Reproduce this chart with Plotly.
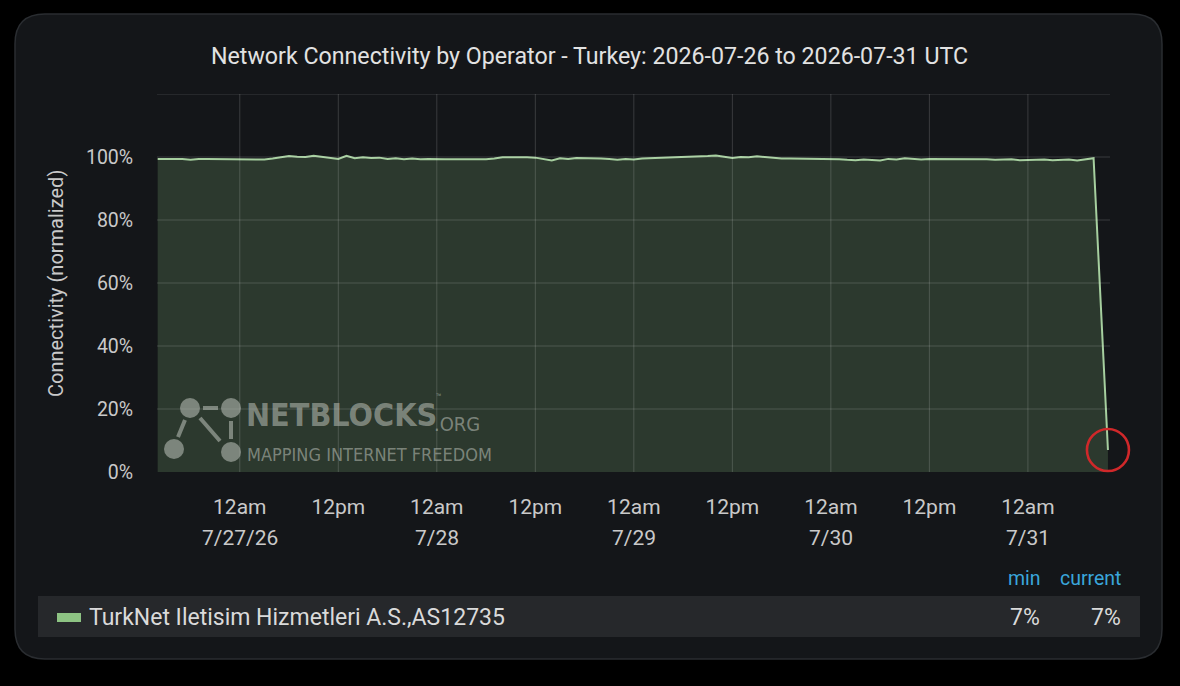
import plotly.graph_objects as go
import pandas as pd

# ---------------- data ----------------
start_time = "2026-07-26 14:00"
hourly_pct = [
    99.4, 99.4, 99.4, 99.4, 99.1, 99.4, 99.4, 99.4, 99.4, 99.4,
    99.4, 99.4, 99.4, 99.2, 99.5, 99.8, 100.3, 100.1, 100.0, 100.4,
    100.1, 99.8, 99.4, 100.4, 99.6, 99.9, 99.7, 99.8, 99.4, 99.6,
    99.3, 99.5, 99.3, 99.4, 99.25, 99.25, 99.25, 99.25, 99.25, 99.25,
    99.25, 99.5, 99.9, 99.9, 100.0, 99.9, 99.8, 99.3, 98.9, 99.6,
    99.4, 99.7, 99.7, 99.6, 99.5, 99.4, 99.1, 99.4, 99.2, 99.5,
    99.6, 99.5, 99.8, 99.7, 100.0, 100.1, 100.2, 100.3, 100.5, 100.1,
    99.7, 100.0, 99.9, 100.2, 100.0, 99.6, 99.5, 99.5, 99.5, 99.5,
    99.5, 99.5, 99.5, 99.3, 99.1, 99.0, 99.2, 99.0, 98.9, 99.4,
    99.2, 99.6, 99.3, 99.2, 99.4, 99.4, 99.4, 99.4, 99.4, 99.4,
    99.3, 99.3, 99.1, 99.2, 99.3, 99.0, 99.1, 99.2, 99.2, 99.0,
    99.1, 99.2, 98.9, 99.3, 99.6,
]
drop_time = "2026-07-31 09:45"
drop_pct = 7

series_name = "TurkNet Iletisim Hizmetleri A.S.,AS12735"
title_text = "Network Connectivity by Operator - Turkey: 2026-07-26 to 2026-07-31 UTC"

x_tickvals = pd.date_range("2026-07-27 00:00", "2026-07-31 00:00", freq="12h")
x_ticktext = ["12am" if t.hour == 0 else "12pm" for t in x_tickvals]
date_vals = pd.date_range("2026-07-27", "2026-07-31", freq="D")
date_text = ["7/27/26", "7/28", "7/29", "7/30", "7/31"]
y_tickvals = [0, 20, 40, 60, 80, 100]
y_ticktext = ["0%", "20%", "40%", "60%", "80%", "100%"]
x_range = ["2026-07-26 13:55", "2026-07-31 10:00"]
y_range = [0, 120]

times = list(pd.date_range(start_time, periods=len(hourly_pct), freq="h")) + [pd.Timestamp(drop_time)]
values = hourly_pct + [drop_pct]

# ---------------- layout geometry ----------------
W, H = 1180, 686
L, R, T, B = 157, 1110, 94, 472


def fx(px):
    return (px - L) / (R - L)


def fy(py):
    return (B - py) / (B - T)


BG = "#141619"
TXT = "#c9c9c9"
LINE = "#a6cf9f"
GRID = "rgba(255,255,255,0.16)"
FONT = "Roboto, Noto Sans, sans-serif"
NARROW = "Liberation Sans Narrow, DejaVu Sans Condensed, sans-serif"

fig = go.Figure()
fig.add_trace(go.Scatter(
    x=times, y=values, mode="lines", name=series_name,
    line=dict(color=LINE, width=2),
    fill="tozeroy", fillcolor="#2c392e",
    hoverinfo="skip", showlegend=False,
))
fig.add_trace(go.Scatter(
    x=[times[-1]], y=[values[-1]], mode="markers", cliponaxis=False,
    marker=dict(symbol="circle-open", size=42, color="#d0282a", line=dict(width=2.6, color="#d0282a")),
    hoverinfo="skip", showlegend=False,
))

shapes = []
# rounded panel
x0, y0, x1, y1, r = 15, 14, 1162, 659, 30
pts = [
    ("M", x0 + r, y0), ("L", x1 - r, y0), ("Q", x1, y0, x1, y0 + r), ("L", x1, y1 - r),
    ("Q", x1, y1, x1 - r, y1), ("L", x0 + r, y1), ("Q", x0, y1, x0, y1 - r),
    ("L", x0, y0 + r), ("Q", x0, y0, x0 + r, y0),
]
path = ""
for p in pts:
    cmd = p[0]
    coords = p[1:]
    s = []
    for i in range(0, len(coords), 2):
        s.append(f"{fx(coords[i]):.5f},{fy(coords[i+1]):.5f}")
    path += cmd + " ".join(s) + " "
path += "Z"
shapes.append(dict(type="path", path=path, xref="paper", yref="paper",
                   fillcolor=BG, line=dict(color="#2a2d31", width=1.5), layer="below"))
# gridlines drawn above the fill (semi-transparent, as in the reference)
for tv in x_tickvals:
    shapes.append(dict(type="line", xref="x", yref="paper", x0=tv, x1=tv, y0=0, y1=1,
                       line=dict(color=GRID, width=1), layer="above"))
for tv in y_tickvals[1:] + [y_range[1]]:
    shapes.append(dict(type="line", xref="paper", yref="y", x0=0, x1=1, y0=tv, y1=tv,
                       line=dict(color=GRID, width=1), layer="above"))
# legend row background
shapes.append(dict(type="rect", xref="paper", yref="paper", x0=fx(38), x1=fx(1140), y0=fy(637), y1=fy(596),
                   fillcolor="#26282b", line=dict(width=0)))
# legend swatch
shapes.append(dict(type="rect", xref="paper", yref="paper", x0=fx(57), x1=fx(81), y0=fy(622), y1=fy(613),
                   fillcolor="#8dc383", line=dict(width=0)))

# watermark logo
wm = "rgba(175,180,172,0.62)"
for cx, cy in [(190, 408), (231, 408), (174, 449), (231, 452)]:
    rr = 10
    shapes.append(dict(type="circle", xref="paper", yref="paper",
                       x0=fx(cx - rr), x1=fx(cx + rr), y0=fy(cy + rr), y1=fy(cy - rr),
                       fillcolor=wm, line=dict(width=0)))
for (ax, ay, bx, by) in [(203, 408, 218, 408), (185, 420, 178, 437), (200, 418, 220, 441), (231, 421, 231, 439)]:
    shapes.append(dict(type="line", xref="paper", yref="paper", x0=fx(ax), y0=fy(ay), x1=fx(bx), y1=fy(by),
                       line=dict(color=wm, width=4)))


def ann(text, px, py, size, color, xanchor="center", yanchor="middle", family=FONT, **kw):
    return dict(text=text, xref="paper", yref="paper", x=fx(px), y=fy(py),
                xanchor=xanchor, yanchor=yanchor, showarrow=False,
                font=dict(family=family, size=size, color=color), **kw)


annotations = []
annotations.append(ann(title_text, 589, 56, 23.2, "#e2e2e2"))
annotations.append(ann("Connectivity (normalized)", 56, 284, 20, TXT, textangle=-90))
# date labels under ticks
for d, t in zip(date_vals, date_text):
    annotations.append(dict(text=t, xref="x", yref="paper", x=d, y=fy(538), showarrow=False,
                            xanchor="center", yanchor="middle",
                            font=dict(family=FONT, size=21, color=TXT)))
# watermark text
annotations.append(ann("<b>NETBLOCKS</b>", 244, 415, 32, wm, xanchor="left", family=NARROW))
annotations.append(ann("™", 434, 397, 9, wm, xanchor="left"))
annotations.append(ann(".ORG", 432, 424, 20, wm, xanchor="left", family=NARROW))
annotations.append(ann("MAPPING INTERNET FREEDOM", 245, 454, 18, wm, xanchor="left", family=NARROW))
# legend table
annotations.append(ann(series_name, 87, 617, 23, "#dadada", xanchor="left"))
annotations.append(ann("min", 1024, 578, 19.5, "#3aa6dc"))
annotations.append(ann("current", 1090, 578, 19.5, "#3aa6dc"))
annotations.append(ann(f"{min(values):.0f}%", 1025, 617, 23, "#dadada"))
annotations.append(ann(f"{values[-1]:.0f}%", 1106, 617, 23, "#dadada"))

fig.update_layout(
    width=W, height=H,
    margin=dict(l=L, r=W - R, t=T, b=H - B),
    paper_bgcolor="#000000", plot_bgcolor=BG,
    font=dict(family=FONT, color=TXT),
    shapes=shapes, annotations=annotations,
    showlegend=False,
    xaxis=dict(range=x_range, tickvals=x_tickvals, ticktext=x_ticktext, showgrid=False,
               zeroline=False, showline=False,
               ticks="outside", ticklen=16, tickcolor="rgba(0,0,0,0)",
               tickfont=dict(size=21, color=TXT, family=FONT)),
    yaxis=dict(range=y_range, tickvals=y_tickvals, ticktext=y_ticktext, showgrid=False,
               zeroline=False, showline=False,
               ticks="outside", ticklen=19, tickcolor="rgba(0,0,0,0)",
               tickfont=dict(size=19.5, color=TXT, family=FONT)),
)

fig.write_html("out.html", config={"displayModeBar": False},
               post_script="document.body.style.margin='0';document.body.style.overflow='hidden';document.body.style.background='#000';")
